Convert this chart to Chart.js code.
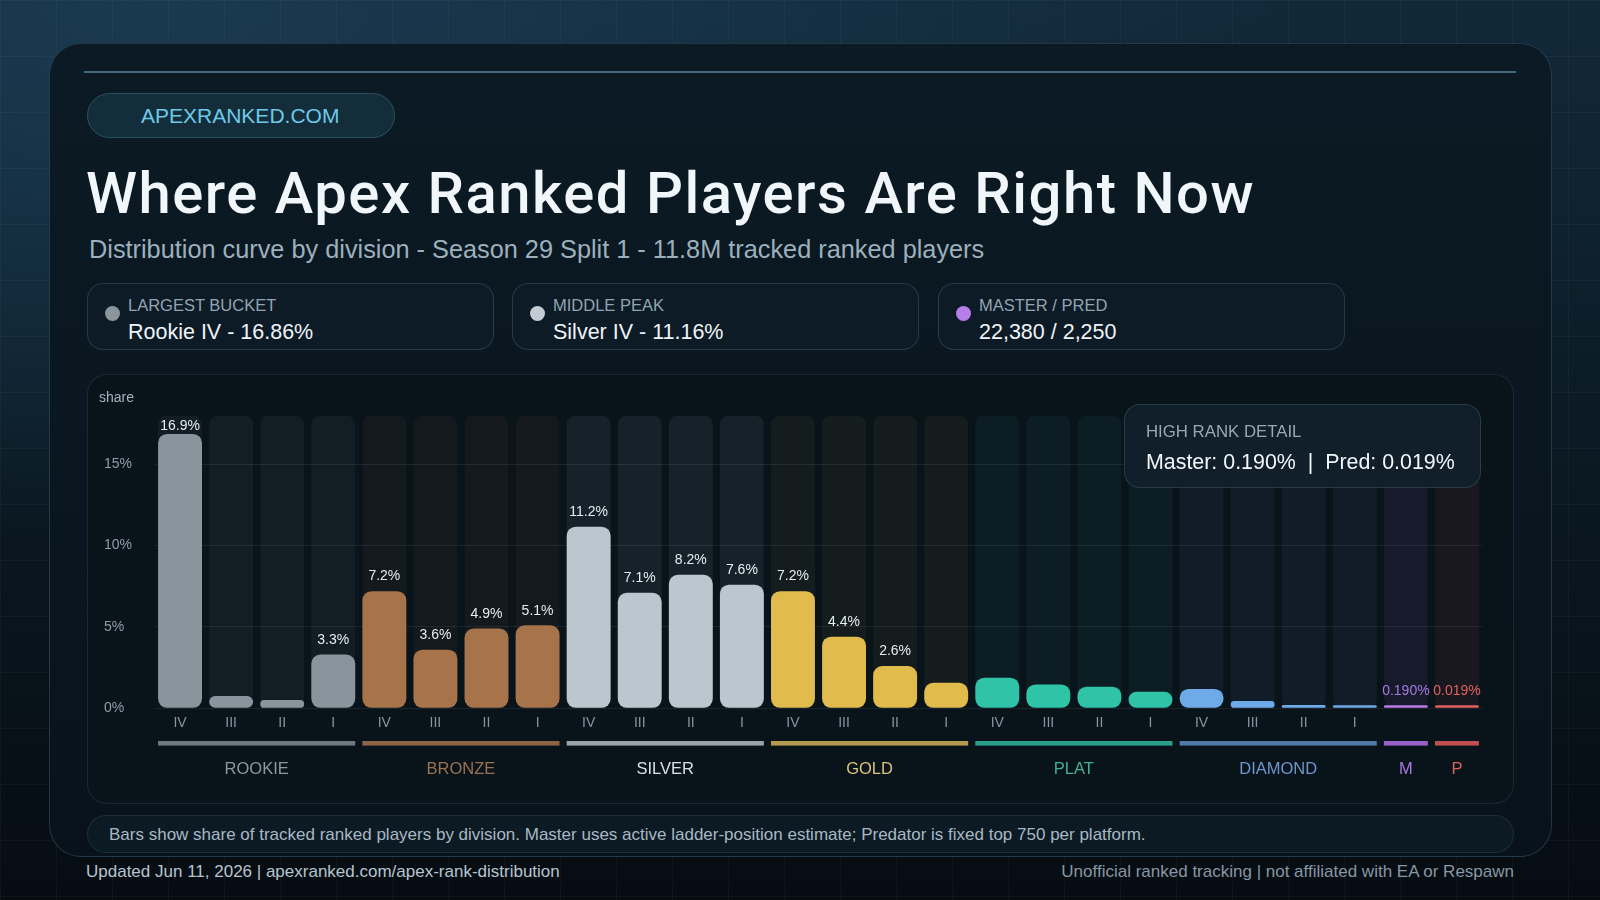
<!DOCTYPE html>
<html>
<head>
<meta charset="utf-8">
<script src="https://cdn.jsdelivr.net/npm/chart.js@4.4.1/dist/chart.umd.min.js"></script>
<style>
  html, body { margin: 0; padding: 0; }
  body {
    width: 1600px; height: 900px; overflow: hidden; position: relative;
    font-family: "Liberation Sans", Arial, sans-serif;
    background:
      linear-gradient(rgba(255,255,255,0.035) 1px, transparent 1px),
      linear-gradient(90deg, rgba(255,255,255,0.035) 1px, transparent 1px),
      radial-gradient(ellipse 70% 60% at 10% 0%, #1a3a50 0%, rgba(26,58,80,0) 100%),
      linear-gradient(180deg, #12293a 0%, #0a1821 55%, #060c12 100%);
    background-size: 56px 56px, 56px 56px, 100% 100%, 100% 100%;
  }
  .abs { position: absolute; }
  .card {
    left: 49px; top: 43px; width: 1503px; height: 814px; box-sizing: border-box;
    border-radius: 32px; border: 1.5px solid rgba(100,150,180,0.28);
    background: linear-gradient(180deg, #0b1a24 0%, #0a161f 60%, #08121a 100%);
  }
  .topline { left: 84px; top: 71px; width: 1432px; height: 2px; background: #46697c; }
  .pill {
    left: 87px; top: 93px; width: 308px; height: 45px; box-sizing: border-box;
    border-radius: 23px; border: 1px solid #2c5060; background: #132e3a;
    color: #6ec9ea; font-size: 21px; line-height: 43px; padding-left: 53px;
  }
  .title {
    left: 86px; top: 164px; font-family: Roboto, sans-serif; font-weight: 500;
    font-size: 58px; line-height: 58px; color: #f0f6fa; white-space: nowrap;
  }
  .subtitle { left: 89px; top: 237px; font-size: 25.3px; line-height: 25.3px; color: #9cb0bd; white-space: nowrap; }
  .stat {
    top: 283px; width: 407px; height: 67px; box-sizing: border-box;
    border-radius: 16px; border: 1px solid rgba(120,160,190,0.24); background: #0d1b26;
  }
  .dot { position: absolute; left: 17px; top: 22px; width: 15px; height: 15px; border-radius: 50%; }
  .slabel { position: absolute; left: 40px; top: 13px; font-size: 16.5px; line-height: 16.5px; color: #93a5b1; white-space: nowrap; }
  .svalue { position: absolute; left: 40px; top: 38px; font-size: 21.5px; line-height: 21.5px; color: #eef4f7; white-space: nowrap; }
  .panel {
    left: 87px; top: 374px; width: 1427px; height: 430px; box-sizing: border-box;
    border-radius: 20px; border: 1px solid rgba(100,140,170,0.18); background: #09131a;
  }
  #chartWrap { left: 87px; top: 374px; width: 1427px; height: 430px; }
  .share { left: 99px; top: 390px; font-size: 14px; line-height: 14px; color: #a5b4be; }
  .hr {
    left: 1124px; top: 404px; width: 357px; height: 84px; box-sizing: border-box;
    border-radius: 16px; border: 1px solid rgba(110,150,180,0.25); background: rgba(17,31,43,0.96);
  }
  .hrl { position: absolute; left: 21px; top: 19px; font-size: 16.8px; line-height: 16.8px; color: #95a8b5; white-space: nowrap; }
  .hrv { position: absolute; left: 21px; top: 47px; font-size: 21.4px; line-height: 21.4px; color: #f2f7fa; white-space: pre; }
  .note {
    left: 87px; top: 815px; width: 1427px; height: 38px; box-sizing: border-box;
    border-radius: 19px; border: 1px solid rgba(100,140,170,0.18); background: #0c1a24;
  }
  .notet { left: 109px; top: 826px; font-size: 17px; line-height: 17px; color: #a8b8c3; white-space: nowrap; }
  .foot { top: 863px; font-size: 17px; line-height: 17px; white-space: nowrap; }
</style>
</head>
<body>
<div class="abs card"></div>
<div class="abs topline"></div>
<div class="abs pill">APEXRANKED.COM</div>
<div class="abs title" id="title">Where Apex Ranked Players Are Right Now</div>
<div class="abs subtitle">Distribution curve by division - Season 29 Split 1 - 11.8M tracked ranked players</div>

<div class="abs stat" style="left:87px"><div class="dot" style="background:#8a959c"></div><div class="slabel">LARGEST BUCKET</div><div class="svalue">Rookie IV - 16.86%</div></div>
<div class="abs stat" style="left:512px"><div class="dot" style="background:#c3ccd3"></div><div class="slabel">MIDDLE PEAK</div><div class="svalue">Silver IV - 11.16%</div></div>
<div class="abs stat" style="left:938px"><div class="dot" style="background:#b77ee9"></div><div class="slabel">MASTER / PRED</div><div class="svalue">22,380 / 2,250</div></div>

<div class="abs panel"></div>
<div class="abs" id="chartWrap"><canvas id="c" width="1427" height="430"></canvas></div>
<div class="abs share">share</div>
<div class="abs hr"><div class="hrl">HIGH RANK DETAIL</div><div class="hrv">Master: 0.190%  |  Pred: 0.019%</div></div>

<div class="abs note"></div>
<div class="abs notet">Bars show share of tracked ranked players by division. Master uses active ladder-position estimate; Predator is fixed top 750 per platform.</div>
<div class="abs foot" style="left:86px;color:#b7c5cf">Updated Jun 11, 2026 | apexranked.com/apex-rank-distribution</div>
<div class="abs foot" style="right:86px;color:#8797a3">Unofficial ranked tracking | not affiliated with EA or Respawn</div>

<script>
// ---- data ----
const tiers = ['ROOKIE', 'BRONZE', 'SILVER', 'GOLD', 'PLAT', 'DIAMOND', 'M', 'P'];
const divisions = ['IV','III','II','I', 'IV','III','II','I', 'IV','III','II','I', 'IV','III','II','I', 'IV','III','II','I', 'IV','III','II','I', '', ''];
const barTier = ['ROOKIE','ROOKIE','ROOKIE','ROOKIE', 'BRONZE','BRONZE','BRONZE','BRONZE', 'SILVER','SILVER','SILVER','SILVER', 'GOLD','GOLD','GOLD','GOLD', 'PLAT','PLAT','PLAT','PLAT', 'DIAMOND','DIAMOND','DIAMOND','DIAMOND', 'M', 'P'];
const shares = [16.86, 0.76, 0.51, 3.3, 7.2, 3.6, 4.9, 5.1, 11.16, 7.1, 8.2, 7.6, 7.2, 4.4, 2.6, 1.57, 1.88, 1.47, 1.33, 1.02, 1.19, 0.45, 0.2, 0.14, 0.19, 0.019];
const yTicks = [0, 5, 10, 15];
const yMax = 18;
const labelMin = 2.5;

// ---- styles ----
const barColors = {ROOKIE:'#89949c', BRONZE:'#a7734a', SILVER:'#bcc6ce', GOLD:'#e1bc4d', PLAT:'#2fc3a7', DIAMOND:'#6ea9e8', M:'#b67ce8', P:'#e0605e'};
const trackColors = {ROOKIE:'rgba(140,150,160,0.08)', BRONZE:'rgba(170,120,80,0.07)', SILVER:'rgba(160,185,210,0.09)', GOLD:'rgba(200,180,90,0.06)', PLAT:'rgba(60,190,170,0.07)', DIAMOND:'rgba(110,160,230,0.07)', M:'rgba(180,120,240,0.08)', P:'rgba(230,90,100,0.08)'};
const lineColors = {ROOKIE:'#6e7880', BRONZE:'#8c6444', SILVER:'#9aa4ad', GOLD:'#b59b52', PLAT:'#2aa08c', DIAMOND:'#5078aa', M:'#9660c8', P:'#c05050'};
const textColors = {ROOKIE:'#8c979f', BRONZE:'#9a7252', SILVER:'#d9e0e5', GOLD:'#dcc47e', PLAT:'#43b09a', DIAMOND:'#6e96cc', M:'#a878e0', P:'#e06262'};
const FONT = '"Liberation Sans", Arial, sans-serif';

// fit title width
(function(){
  const t = document.getElementById('title');
  const m = document.createElement('canvas').getContext('2d');
  m.font = '500 58px Roboto';
  const w = m.measureText(t.textContent).width;
  t.style.letterSpacing = ((1169 - w) / t.textContent.length) + 'px';
})();

const overlay = {
  id: 'overlay',
  afterDatasetsDraw(chart) {
    const {ctx, chartArea} = chart;
    const meta = chart.getDatasetMeta(0);
    ctx.save();
    ctx.textAlign = 'center';
    ctx.textBaseline = 'middle';
    meta.data.forEach((el, i) => {
      const t = barTier[i], v = shares[i];
      const high = (t === 'M' || t === 'P');
      if (!high && v < labelMin) return;
      ctx.font = '14px ' + FONT;
      ctx.fillStyle = high ? textColors[t] : '#e6edf2';
      const y = Math.max(el.y - 14.5, chartArea.top + 10.5);
      ctx.fillText(high ? v.toFixed(3) + '%' : v.toFixed(1) + '%', el.x, y);
    });
    tiers.forEach(t => {
      const idx = barTier.map((b, i) => b === t ? i : -1).filter(i => i >= 0);
      const a = meta.data[idx[0]], b = meta.data[idx[idx.length - 1]];
      const x0 = a.x - a.width / 2, x1 = b.x + b.width / 2;
      ctx.fillStyle = lineColors[t];
      ctx.fillRect(x0, chartArea.bottom + 32.7, x1 - x0, 4.6);
      ctx.fillStyle = textColors[t];
      ctx.font = '16.5px ' + FONT;
      ctx.fillText(t, (x0 + x1) / 2, chartArea.bottom + 61);
    });
    ctx.restore();
  }
};

new Chart(document.getElementById('c'), {
  type: 'bar',
  data: {
    labels: divisions,
    datasets: [
      {
        label: 'share', data: shares,
        backgroundColor: barTier.map(t => barColors[t]),
        borderRadius: 9, borderSkipped: false, minBarLength: 3,
        barPercentage: 0.86, categoryPercentage: 1, grouped: false, order: 1
      },
      {
        label: 'track', data: shares.map(() => yMax),
        backgroundColor: barTier.map(t => trackColors[t]),
        borderRadius: 9, borderSkipped: false,
        barPercentage: 0.86, categoryPercentage: 1, grouped: false, order: 2
      }
    ]
  },
  options: {
    responsive: false, animation: false,
    layout: { padding: { left: 17, right: 31.5, top: 41.4, bottom: 0 } },
    plugins: { legend: { display: false }, tooltip: { enabled: false } },
    scales: {
      x: {
        grid: { display: false, drawTicks: false }, border: { display: false },
        ticks: { color: '#8696a2', font: { size: 14, family: FONT }, padding: 6, maxRotation: 0, autoSkip: false },
        afterFit: s => { s.height = 95.7; }
      },
      y: {
        min: 0, max: yMax,
        grid: { color: 'rgba(255,255,255,0.075)', drawTicks: false }, border: { display: false },
        afterBuildTicks: s => { s.ticks = yTicks.map(v => ({ value: v })); },
        ticks: { color: '#8e9faa', font: { size: 14, family: FONT }, crossAlign: 'far', padding: 0, callback: v => v + '%' },
        afterFit: s => { s.width = 50.5; }
      }
    }
  },
  plugins: [overlay]
});
</script>
</body>
</html>
